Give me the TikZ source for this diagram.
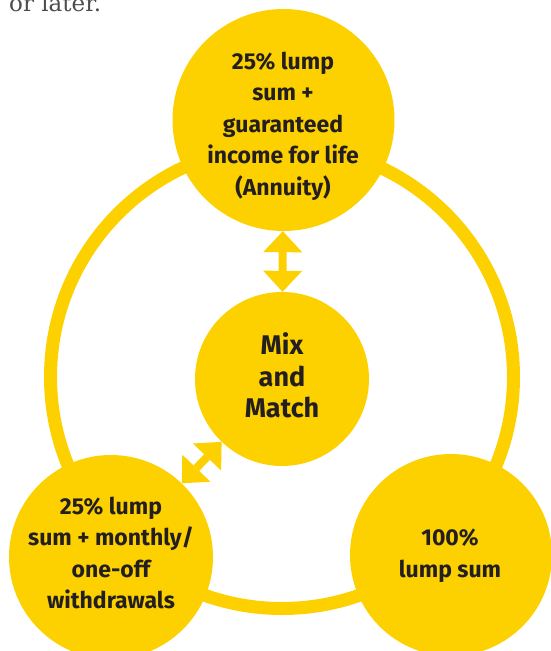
\documentclass[tikz,border=0pt]{standalone}
\usepackage{fontspec}
\setmainfont{Fira Sans}
\newfontfamily\notefont{DejaVu Serif}
\usetikzlibrary{arrows.meta}
\definecolor{gold}{RGB}{253,208,0}
\definecolor{ink}{RGB}{35,31,32}
\definecolor{notegray}{RGB}{77,77,77}
\begin{document}
\begin{tikzpicture}[x=1pt,y=-1pt,
  bubble/.style={circle,fill=gold,draw=none,inner sep=0pt},
  bubbletext/.style={align=center,text=ink,inner sep=0pt,
    font=\bfseries\fontsize{23}{31.5}\selectfont},
  bigtext/.style={bubbletext,font=\bfseries\fontsize{27}{31.5}\selectfont},
  link/.style={draw=gold,line width=8pt,
    {Triangle[width=39pt,length=21pt,line width=0pt]}-{Triangle[width=39pt,length=21pt,line width=0pt]}},
  ring/.style={draw=gold,line width=13pt}]
\useasboundingbox (0,0) rectangle (551,651);
% cut-off text at the top
\node[anchor=base west,inner sep=0pt,text=notegray,font=\notefont\fontsize{23}{26}\selectfont] (note) at (9,11.5) {or later.};
% ring
\coordinate (ringc) at (282,377);
\draw[ring] (ringc) circle[radius=231.5pt];
% bubbles
\node[bubble,minimum size=222pt] (top) at (283.5,120) {};
\node[bubble,minimum size=174pt] (mix) at (282,379) {};
\node[bubble,minimum size=204pt] (bl) at (111,557) {};
\node[bubble,minimum size=202pt] (br) at (451,555) {};
% texts
\node[bubbletext] (toptext) at (283,126) {25\% lump\\sum +\\guaranteed\\income for life\\(Annuity)};
\node[bigtext] (mixtext) at (282,375.5) {Mix\\and\\Match};
\node[bubbletext] (bltext) at (111,553) {25\% lump\\sum + monthly/\\one-off\\withdrawals};
\node[bubbletext] (brtext) at (450,556) {100\%\\lump sum};
% arrows
\draw[link] (top) -- (mix);
\draw[link] (mix) -- (bl);
\end{tikzpicture}
\end{document}
